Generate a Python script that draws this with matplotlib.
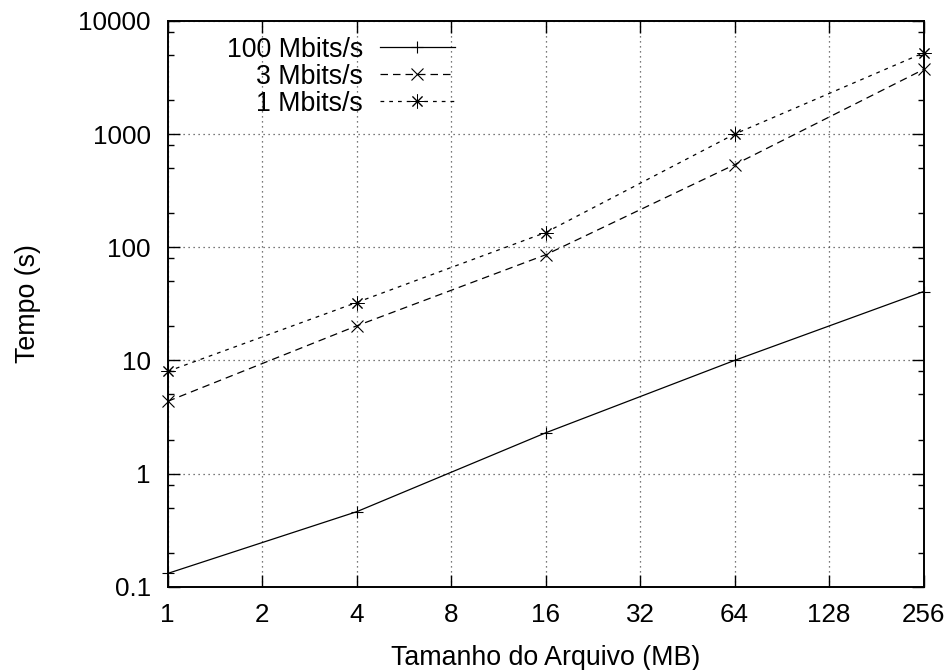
import matplotlib
matplotlib.use("Agg")
import matplotlib.pyplot as plt
from matplotlib.ticker import FixedLocator, FuncFormatter, LogLocator, NullLocator

plt.rcParams['font.family'] = ['Liberation Sans', 'DejaVu Sans']

# Data
file_sizes = [1, 4, 16, 64, 256]
x_ticks = [1, 2, 4, 8, 16, 32, 64, 128, 256]
y_ticks = [0.1, 1, 10, 100, 1000, 10000]
labels = ["100 Mbits/s", "3 Mbits/s", "1 Mbits/s"]
t_100mbit = [0.131, 0.46, 2.29, 10.0, 40.6]
t_3mbit = [4.35, 20.2, 85.8, 537, 3725]
t_1mbit = [8.0, 32.5, 135, 1000, 5220]

FS_TICK = 18.7
FS = 19.3

fig = plt.figure(figsize=(9.51, 6.70), dpi=100)
ax = fig.add_axes([0.1763, 0.1243, 0.9711 - 0.1763, 0.9687 - 0.1243])

ax.plot(file_sizes, t_100mbit, color='black', lw=0.9, ls='-',
        marker='+', ms=9, mew=0.8, label=labels[0], clip_on=False)
ax.plot(file_sizes, t_3mbit, color='black', lw=0.9, ls=(0, (6, 4)),
        marker='x', ms=8, mew=0.8, label=labels[1], clip_on=False)
ax.plot(file_sizes, t_1mbit, color='black', lw=0.9, ls=(0, (3, 4)),
        marker=(8, 2, 0), ms=10, mew=0.7, label=labels[2], clip_on=False)

ax.set_xscale('log', base=2)
ax.set_yscale('log', base=10)
ax.set_xlim(x_ticks[0], x_ticks[-1])
ax.set_ylim(y_ticks[0], y_ticks[-1])

ax.xaxis.set_major_locator(FixedLocator(x_ticks))
ax.xaxis.set_major_formatter(FuncFormatter(lambda v, p: f"{v:g}"))
ax.xaxis.set_minor_locator(NullLocator())
ax.yaxis.set_major_locator(FixedLocator(y_ticks))
ax.yaxis.set_major_formatter(FuncFormatter(lambda v, p: f"{v:g}"))
ax.yaxis.set_minor_locator(LogLocator(base=10, subs=[2, 5, 8]))
ax.yaxis.set_minor_formatter(FuncFormatter(lambda v, p: ""))

ax.tick_params(which='both', direction='in', top=True, right=True,
               labelsize=FS_TICK, width=1.0, color='black')
ax.tick_params(which='major', length=8.5)
ax.tick_params(which='minor', length=4.3)
ax.tick_params(axis='x', which='major', pad=12)
ax.tick_params(axis='y', which='major', pad=12)

for s in ax.spines.values():
    s.set_linewidth(1.4)

ax.grid(True, which='major', color='0.3', ls=(0, (1, 3)), lw=0.9)

ax.set_xlabel("Tamanho do Arquivo (MB)", fontsize=FS, labelpad=13)
ax.set_ylabel("Tempo (s)", fontsize=FS, labelpad=27)

ax.legend(loc='upper right', bbox_to_anchor=(0.380, 0.972), frameon=False,
          markerfirst=False, fontsize=FS, handlelength=2.8, handletextpad=0.62,
          labelspacing=0.035, borderpad=0, borderaxespad=0)

fig.savefig("out.png", dpi=100)
